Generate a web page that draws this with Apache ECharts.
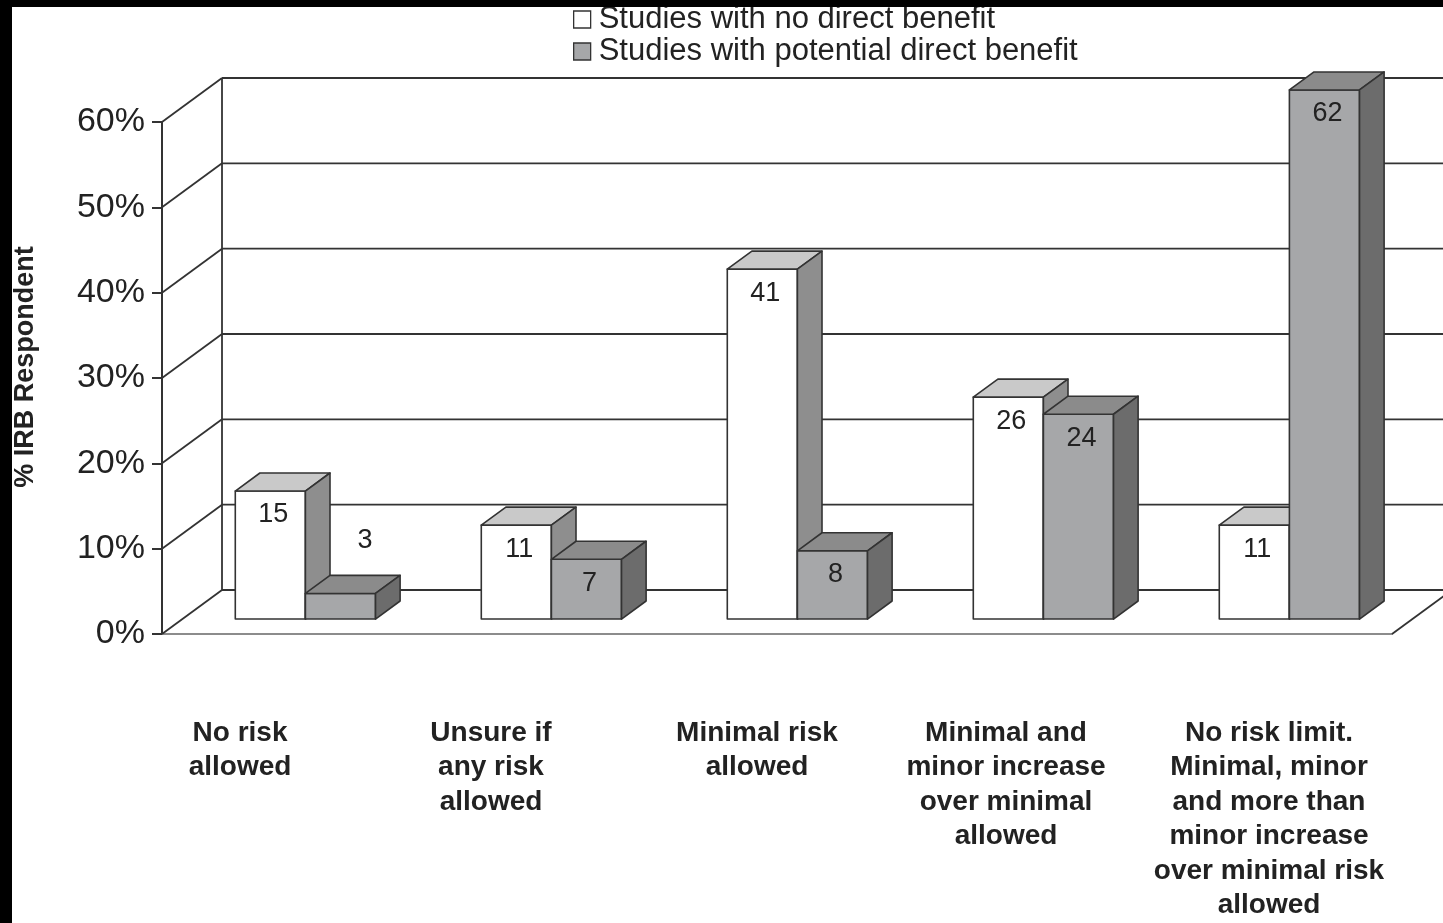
<!DOCTYPE html>
<html>
<head>
<meta charset="utf-8">
<script src="https://cdn.jsdelivr.net/npm/echarts@6/dist/echarts.min.js"></script>
<style>
  html, body { margin: 0; padding: 0; background: #ffffff; }
  #chart { width: 1443px; height: 923px; }
</style>
</head>
<body>
<div id="chart"></div>
<script>
// ---- data ----
const categories = [
  'No risk\nallowed',
  'Unsure if\nany risk\nallowed',
  'Minimal risk\nallowed',
  'Minimal and\nminor increase\nover minimal\nallowed',
  'No risk limit.\nMinimal, minor\nand more than\nminor increase\nover minimal risk\nallowed'
];
const seriesNames = ['Studies with no direct benefit', 'Studies with potential direct benefit'];
const noDirectBenefit = [15, 11, 41, 26, 11];
const potentialDirectBenefit = [3, 7, 8, 24, 62];
const yTicks = [0, 10, 20, 30, 40, 50, 60];

// ---- layout / style constants ----
const FONT = '"Liberation Sans", Arial, Helvetica, sans-serif';
const WALL_DX = 60;      // oblique depth of the chart box (x)
const WALL_DY = 44;      // oblique depth of the chart box (y)
const BAR_FRONT_T = 0.34; // bar front plane as a share of the box depth
const BAR_BACK_T = 0.75;  // bar back plane as a share of the box depth
const BAR_FRAC = 0.285;   // bar width as a share of a category band
const labelNudge = [-45, -40, -20, -17, 0]; // horizontal shift of category labels
const LINE = '#333333';

const faceStyles = [
  { front: '#ffffff', top: '#c9c9c9', side: '#8e8e8e' },
  { front: '#a6a7a9', top: '#8b8b8b', side: '#6c6c6c' }
];

function barRenderer(side) {
  const faces = faceStyles[side];
  return function (params, api) {
    const idx = api.value(0);
    const val = api.value(1);
    const base = api.coord([idx, 0]);
    const top = api.coord([idx, val]);
    const band = api.size([1, 0])[0];
    const w = band * BAR_FRAC;
    const x0 = side === 0 ? base[0] - w : base[0];
    const fdx = WALL_DX * BAR_FRONT_T, fdy = WALL_DY * BAR_FRONT_T;
    const ddx = WALL_DX * (BAR_BACK_T - BAR_FRONT_T);
    const ddy = WALL_DY * (BAR_BACK_T - BAR_FRONT_T);
    const X0 = x0 + fdx, X1 = X0 + w;
    const yb = base[1] - fdy, yt = top[1] - fdy;
    const stroke = { stroke: LINE, lineWidth: 1.6, lineJoin: 'round' };
    const children = [
      { type: 'rect', shape: { x: X0, y: yt, width: w, height: yb - yt },
        style: Object.assign({ fill: faces.front }, stroke) },
      { type: 'polygon', shape: { points: [[X0, yt], [X0 + ddx, yt - ddy], [X1 + ddx, yt - ddy], [X1, yt]] },
        style: Object.assign({ fill: faces.top }, stroke) },
      { type: 'polygon', shape: { points: [[X1, yt], [X1 + ddx, yt - ddy], [X1 + ddx, yb - ddy], [X1, yb]] },
        style: Object.assign({ fill: faces.side }, stroke) }
    ];
    const inside = (yb - yt) > 45;
    children.push({
      type: 'text',
      x: inside ? X0 + w / 2 + 3 : X0 + w / 2 + ddx,
      y: inside ? yt + 24 : yt - ddy - 35,
      style: { text: String(val), fill: '#222', font: '27px ' + FONT, align: 'center', verticalAlign: 'middle' }
    });
    return { type: 'group', children: children };
  };
}

// back wall, side wall gridlines and floor of the box
function frameRenderer(params, api) {
  const v = api.value(1);
  const cs = params.coordSys;
  const p = api.coord([0, v]);
  const x0 = cs.x;
  const bx = x0 + WALL_DX, by = p[1] - WALL_DY;
  const ls = { stroke: LINE, lineWidth: 1.8 };
  const children = [
    { type: 'line', shape: { x1: x0, y1: p[1], x2: bx, y2: by }, style: ls },
    { type: 'line', shape: { x1: bx, y1: by, x2: x0 + cs.width + WALL_DX, y2: by }, style: ls }
  ];
  if (v === 0) {
    const topY = api.coord([0, yTicks[yTicks.length - 1]])[1] - WALL_DY;
    children.push({ type: 'line', shape: { x1: bx, y1: topY, x2: bx, y2: by }, style: ls });
    const rx = x0 + cs.width;
    children.push({ type: 'line', shape: { x1: rx, y1: p[1], x2: rx + WALL_DX, y2: p[1] - WALL_DY }, style: ls });
  }
  return { type: 'group', children: children };
}

const chart = echarts.init(document.getElementById('chart'), null, { renderer: 'canvas' });

chart.setOption({
  animation: false,
  backgroundColor: '#ffffff',
  textStyle: { fontFamily: FONT },
  grid: { left: 162, right: 51, top: 122, bottom: 289, containLabel: false },
  legend: {
    data: seriesNames,
    orient: 'vertical',
    left: 568,
    top: -1,
    icon: 'rect',
    itemWidth: 17,
    itemHeight: 17,
    itemGap: 1,
    itemStyle: { borderColor: LINE, borderWidth: 1.3 },
    textStyle: { fontSize: 31, color: '#222', fontFamily: FONT, padding: [0, 0, 0, 3] },
    selectedMode: false
  },
  xAxis: {
    type: 'category',
    data: categories.map((c, i) => ({
      value: c,
      textStyle: { padding: labelNudge[i] < 0 ? [0, -2 * labelNudge[i], 0, 0] : [0, 0, 0, 2 * labelNudge[i]] }
    })),
    axisLine: { show: true, lineStyle: { color: '#8c8c8c', width: 2 } },
    axisTick: { show: false },
    axisLabel: {
      interval: 0, margin: 82, fontSize: 28, fontWeight: 'bold', lineHeight: 34.5,
      color: '#222', fontFamily: FONT, align: 'center'
    },
    splitLine: { show: false }
  },
  yAxis: {
    type: 'value',
    min: 0, max: 60, interval: 10,
    name: '% IRB Respondent',
    nameLocation: 'middle',
    nameRotate: 90,
    nameGap: 123,
    nameTextStyle: { fontSize: 27, fontWeight: 'bold', color: '#222', fontFamily: FONT, padding: [0, 0, 0, 22] },
    axisLine: { show: true, lineStyle: { color: LINE, width: 2 } },
    axisTick: { show: true, inside: false, length: 10, lineStyle: { color: LINE, width: 2 } },
    axisLabel: { formatter: '{value}%', fontSize: 34, color: '#222', margin: 17, fontFamily: FONT },
    splitLine: { show: false }
  },
  series: [
    {
      type: 'custom', name: 'frame', silent: true, clip: false, z: 1,
      renderItem: frameRenderer,
      data: yTicks.map(v => [0, v])
    },
    {
      type: 'custom', name: seriesNames[0], clip: false, z: 3,
      itemStyle: { color: faceStyles[0].front, borderColor: LINE },
      renderItem: barRenderer(0),
      data: noDirectBenefit.map((v, i) => [i, v])
    },
    {
      type: 'custom', name: seriesNames[1], clip: false, z: 4,
      itemStyle: { color: faceStyles[1].front, borderColor: LINE },
      renderItem: barRenderer(1),
      data: potentialDirectBenefit.map((v, i) => [i, v])
    }
  ],
  graphic: [
    { type: 'rect', left: 0, top: 0, z: 100, shape: { width: 1443, height: 7 }, style: { fill: '#000' } },
    { type: 'rect', left: 0, top: 0, z: 100, shape: { width: 12, height: 923 }, style: { fill: '#000' } }
  ]
});
</script>
</body>
</html>
